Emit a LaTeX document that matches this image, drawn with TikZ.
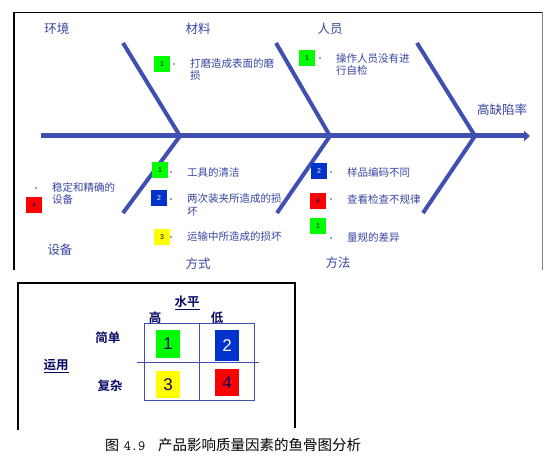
\documentclass[tikz,border=0pt]{standalone}
\usepackage{fontspec}
\newfontfamily\cjk[BoldFont={Noto Sans CJK SC Bold}]{Noto Sans CJK SC}
\newfontfamily\arial{Liberation Sans}
\usepackage{tikz}
\usetikzlibrary{arrows.meta}
\usetikzlibrary{positioning}
\definecolor{bone}{RGB}{64,80,176}
\definecolor{txtblue}{RGB}{56,68,160}
\definecolor{navy}{RGB}{10,10,100}
\definecolor{boxgreen}{RGB}{0,255,0}
\definecolor{boxblue}{RGB}{0,51,204}
\definecolor{boxyellow}{RGB}{255,255,0}
\definecolor{boxred}{RGB}{255,0,0}
\tikzstyle{boneline}=[draw=bone,line width=4pt]
\tikzstyle{cat}=[text=txtblue,font=\cjk\fontsize{12.5}{14}\selectfont,inner sep=0pt]
\tikzstyle{cause}=[text=txtblue,font=\cjk\fontsize{10.5}{12.5}\selectfont,align=left,anchor=west,inner sep=0pt]
\tikzstyle{tag}=[minimum width=16pt,minimum height=16pt,inner sep=0pt,font=\arial\fontsize{7}{8}\selectfont]
\tikzstyle{pnt}=[circle,fill=txtblue,inner sep=0pt,minimum size=1.8pt]
\tikzstyle{bignum}=[minimum width=24pt,minimum height=28pt,inner sep=0pt,font=\arial\fontsize{17}{18}\selectfont,text=navy]
\tikzstyle{hd}=[text=navy,font=\cjk\bfseries\fontsize{12.5}{14}\selectfont,inner sep=0pt]

\begin{document}
\begin{tikzpicture}[x=1pt,y=-1pt]
\useasboundingbox (0,0) rectangle (558,470);
% frames
\draw[line width=0.8pt] (14,12) -- (542,12);
\draw[line width=1.2pt] (14,12) -- (14,270);
\draw[gray,line width=1pt] (542,12) -- (542,270);
\draw[line width=1.6pt] (18,430) -- (18,283) -- (295,283) -- (295,428);

% spine and bones
\coordinate (s0) at (41,136);
\coordinate (s1) at (530,136);
\draw[boneline,line width=5pt,-{Triangle[width=10pt,length=6pt]}] (s0) -- (s1);
\foreach \n/\jx/\tx/\bx in {a/180/123/123, b/330/276/277, c/475/417/423}{
  \coordinate (j\n) at (\jx,136);
  \coordinate (t\n) at (\tx,43);
  \coordinate (b\n) at (\bx,213);
  \draw[boneline] (t\n) -- (j\n);
  \draw[boneline] (b\n) -- (j\n);
}

\node[cat] (env) at (57,29) {环境};
\node[cat] (mat) at (198,29) {材料};
\node[cat] (man) at (330,29) {人员};
\node[cat] (eff) at (502,110) {高缺陷率};
\node[cat] (equ) at (60,250) {设备};
\node[cat] (way) at (198,264) {方式};
\node[cat] (mth) at (338,263) {方法};

% causes
\node[tag,fill=boxgreen] (m1) at (162,64) {1};
\node[pnt] (m1d) at (174,64) {};
\node[cause] (m1t) at (190,69.5) {打磨造成表面的磨\\损};

\node[tag,fill=boxgreen] (p1) at (307,58) {1};
\node[pnt] (p1d) at (320,58) {};
\node[cause] (p1t) at (336,64.5) {操作人员没有进\\行自检};

\node[tag,fill=boxgreen] (w1) at (160,170) {1};
\node[pnt] (w1d) at (171,172) {};
\node[cause] (w1t) at (187,172) {工具的清洁};
\node[tag,fill=boxblue,text=white] (w2) at (159,198) {2};
\node[pnt] (w2d) at (171,199) {};
\node[cause] (w2t) at (187,205) {两次装夹所造成的损\\坏};
\node[tag,fill=boxyellow] (w3) at (162,237) {3};
\node[pnt] (w3d) at (171,237) {};
\node[cause] (w3t) at (187,237) {运输中所造成的损坏};

\node[pnt] (e4d) at (36,188) {};
\node[cause] (e4t) at (52,193.5) {稳定和精确的\\设备};
\node[tag,fill=boxred,text=navy] (e4) at (34,205) {4};

\node[tag,fill=boxblue,text=white] (f2) at (319,171) {2};
\node[pnt] (f2d) at (331,172) {};
\node[cause] (f2t) at (347,172) {样品编码不同};
\node[tag,fill=boxred,text=navy] (f4) at (318,201) {4};
\node[pnt] (f4d) at (331,199) {};
\node[cause] (f4t) at (347,199) {查看检查不规律};
\node[tag,fill=boxgreen] (f1) at (318,226) {1};
\node[pnt] (f1d) at (331,238) {};
\node[cause] (f1t) at (347,238) {量规的差异};

% matrix
\node[draw=bone,line width=1pt,minimum width=110pt,minimum height=77pt,inner sep=0pt] (grid) at (199,362.5) {};
\draw[bone,line width=1pt] (grid.north) -- (grid.south);
\draw[bone,line width=1pt] ([xshift=-7pt]grid.west) -- ([xshift=4pt]grid.east);
\node[bignum,fill=boxgreen] (q1) at (168,344) {1};
\node[bignum,fill=boxblue,text=white,minimum height=31pt] (q2) at (227,345.5) {2};
\node[bignum,fill=boxyellow,minimum height=27pt] (q3) at (168,384.5) {3};
\node[bignum,fill=boxred,minimum height=27pt] (q4) at (227,382.5) {4};
\node[hd] (lvl) at (187,303) {\underline{水平}};
\node[hd] (hi) at (155,318) {高};
\node[hd] (lo) at (217,318) {低};
\node[hd] (easy) at (108,338) {简单};
\node[hd] (hard) at (110,386) {复杂};
\node[hd] (use) at (56,366) {\underline{运用}};

% caption
\node[anchor=west,inner sep=0pt,font=\fontsize{14}{16}\selectfont] (capn) at (105,445) {{\cjk 图} {\ttfamily 4.9}};
\node[anchor=west,inner sep=0pt,font=\cjk\fontsize{14.5}{16}\selectfont] (capt) at (158,445) {产品影响质量因素的鱼骨图分析};
\end{tikzpicture}
\end{document}
